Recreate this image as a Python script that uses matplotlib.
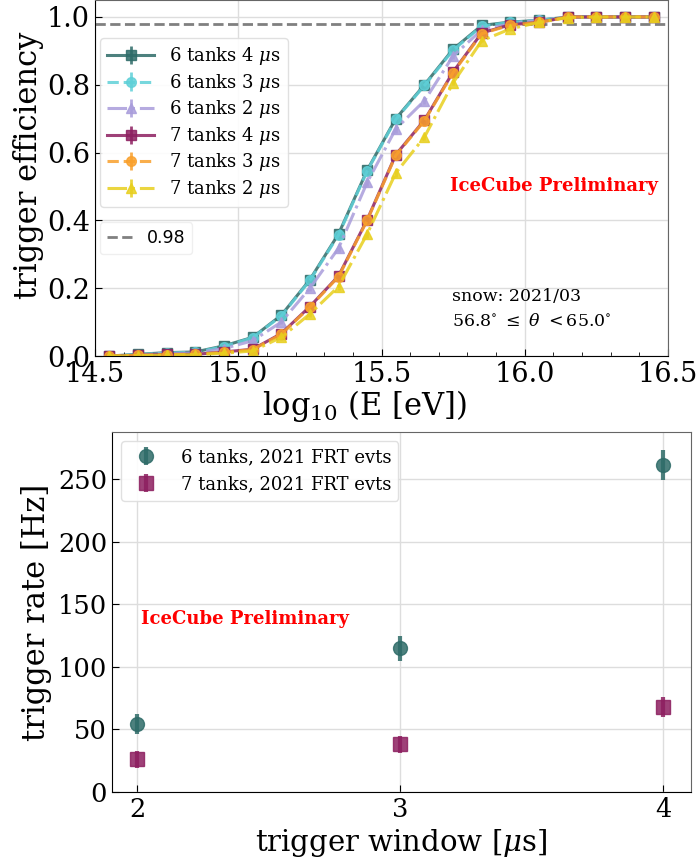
import matplotlib
matplotlib.use("Agg")
import matplotlib.pyplot as plt
import numpy as np
from matplotlib.ticker import MultipleLocator

# ---------------- data ----------------
log_e = [14.55, 14.65, 14.75, 14.85, 14.95, 15.05, 15.15, 15.25, 15.35, 15.45,
         15.55, 15.65, 15.75, 15.85, 15.95, 16.05, 16.15, 16.25, 16.35, 16.45]

eff_6t_4us = [0.0, 0.005, 0.01, 0.012, 0.03, 0.055, 0.12, 0.225, 0.36, 0.548,
              0.70, 0.80, 0.905, 0.975, 0.985, 0.99, 1.0, 1.0, 1.0, 1.0]
eff_6t_3us = [0.0, 0.004, 0.009, 0.011, 0.028, 0.054, 0.118, 0.223, 0.357, 0.546,
              0.698, 0.798, 0.902, 0.973, 0.984, 0.99, 1.0, 1.0, 1.0, 1.0]
eff_6t_2us = [0.0, 0.003, 0.007, 0.009, 0.022, 0.045, 0.10, 0.20, 0.318, 0.512,
              0.67, 0.753, 0.885, 0.962, 0.98, 0.99, 0.999, 1.0, 1.0, 1.0]
eff_7t_4us = [0.0, 0.002, 0.005, 0.005, 0.012, 0.02, 0.066, 0.146, 0.236, 0.402,
              0.594, 0.696, 0.838, 0.953, 0.977, 0.984, 1.0, 1.0, 1.0, 1.0]
eff_7t_3us = [0.0, 0.002, 0.004, 0.005, 0.011, 0.019, 0.064, 0.144, 0.234, 0.40,
              0.592, 0.694, 0.836, 0.951, 0.976, 0.984, 1.0, 1.0, 1.0, 1.0]
eff_7t_2us = [0.0, 0.001, 0.003, 0.004, 0.008, 0.015, 0.055, 0.124, 0.205, 0.36,
              0.54, 0.646, 0.806, 0.93, 0.965, 0.984, 0.998, 1.0, 1.0, 1.0]
eff_err = [0.002, 0.002, 0.003, 0.003, 0.004, 0.005, 0.007, 0.009, 0.01, 0.011,
           0.011, 0.01, 0.008, 0.005, 0.004, 0.003, 0.002, 0.001, 0.001, 0.001]

eff_labels = ["6 tanks 4 $\\mu$s", "6 tanks 3 $\\mu$s", "6 tanks 2 $\\mu$s",
              "7 tanks 4 $\\mu$s", "7 tanks 3 $\\mu$s", "7 tanks 2 $\\mu$s"]
threshold = 0.98

windows = [2, 3, 4]
rate_6t = [54, 115, 261]
rate_6t_err = [8, 10, 12]
rate_7t = [26, 38, 68]
rate_7t_err = [7, 7, 8]

# ---------------- style ----------------
plt.rcParams['font.family'] = ['DejaVu Serif']
plt.rcParams['mathtext.fontset'] = 'dejavuserif'

fig = plt.figure(figsize=(7.0, 8.61), dpi=100)

# ---------------- top panel ----------------
ax1 = fig.add_axes([0.1357, 0.5865, 0.8186, 0.4135])
series = [eff_6t_4us, eff_6t_3us, eff_6t_2us, eff_7t_4us, eff_7t_3us, eff_7t_2us]
colors = ["#2e6b68", "#5fd0d8", "#a99ddb", "#8d1f60", "#f9a02c", "#e8cf1e"]
markers = ["s", "o", "^", "s", "o", "^"]
styles = ["-", "--", "-.", "-", "--", "-."]
handles = []
for vals, c, m, ls, lab in zip(series, colors, markers, styles, eff_labels):
    h = ax1.errorbar(log_e, vals, yerr=eff_err, color=c, marker=m, ls=ls, lw=2.2,
                     ms=7, alpha=0.85, label=lab, capsize=0, elinewidth=2)
    handles.append(h)
hl = ax1.axhline(threshold, color="gray", ls="--", lw=2, label="0.98")

ax1.set_xlim(14.5, 16.5)
ax1.set_ylim(0, 1.05)
ax1.xaxis.set_minor_locator(MultipleLocator(0.1))
ax1.yaxis.set_major_locator(MultipleLocator(0.2))
ax1.tick_params(direction="in", which="both", labelsize=19.5)
ax1.tick_params(which="major", length=5)
ax1.tick_params(which="minor", length=3)
ax1.set_xticks([14.5, 15.0, 15.5, 16.0, 16.5])
ax1.set_xticklabels(["14.5", "15.0", "15.5", "16.0", "16.5"])
ax1.grid(True, which="major", color="#dddddd", lw=1)
for s in ["top", "right"]:
    ax1.spines[s].set_color("#666666")
ax1.set_xlabel("log$_{10}$ (E [eV])", fontsize=22, labelpad=0)
ax1.xaxis.label.set_x(0.47)
ax1.set_ylabel("trigger efficiency", fontsize=22, labelpad=2)
ax1.yaxis.label.set_y(0.535)

leg1 = ax1.legend(handles=handles, loc="upper left", fontsize=13,
                  bbox_to_anchor=(0.0087, 0.893), borderaxespad=0,
                  labelspacing=0.25, handlelength=2.6,
                  framealpha=0.9, edgecolor="#dddddd")
ax1.add_artist(leg1)
ax1.legend(handles=[hl], loc="upper left", bbox_to_anchor=(0.0087, 0.376),
           borderaxespad=0, handlelength=1.5,
           prop={'family': 'DejaVu Sans', 'size': 12.5}, framealpha=0.9,
           edgecolor="#eeeeee")

ax1.text(15.74, 0.50, "IceCube Preliminary", color="red", fontweight="bold",
         fontsize=13, va="center", ha="left")
ax1.text(15.745, 0.175, "snow: 2021/03", fontsize=12.5, va="center", ha="left")
ax1.text(15.745, 0.103, "56.8$^{\\circ}$ $\\leq$ $\\theta$ $<$65.0$^{\\circ}$",
         fontsize=12.5, va="center", ha="left")

# ---------------- bottom panel ----------------
ax2 = fig.add_axes([0.16, 0.0801, 0.8271, 0.4181])
h6 = ax2.errorbar(windows, rate_6t, yerr=rate_6t_err, fmt="o", color="#2e6b68",
                  ms=10, elinewidth=3, capsize=0, alpha=0.85,
                  label="6 tanks, 2021 FRT evts")
h7 = ax2.errorbar(windows, rate_7t, yerr=rate_7t_err, fmt="s", color="#8d1f60",
                  ms=10, elinewidth=3, capsize=0, alpha=0.85,
                  label="7 tanks, 2021 FRT evts")
ax2.set_xlim(1.905, 4.105)
ax2.set_ylim(0, 287.5)
ax2.set_xticks(windows)
ax2.yaxis.set_major_locator(MultipleLocator(50))
ax2.tick_params(direction="in", labelsize=18.5, length=5)
ax2.grid(True, color="#dddddd", lw=1)
for s in ["top", "right"]:
    ax2.spines[s].set_color("#666666")
ax2.set_xlabel("trigger window [$\\mu$s]", fontsize=21, labelpad=4)
ax2.set_ylabel("trigger rate [Hz]", fontsize=22, labelpad=4)
ax2.legend(loc="upper left", fontsize=13, framealpha=0.9, edgecolor="#dddddd",
           borderaxespad=0.5, handletextpad=0.9)
ax2.text(2.015, 138, "IceCube Preliminary", color="red", fontweight="bold",
         fontsize=13, va="center", ha="left")

fig.savefig("out.png", dpi=100)
